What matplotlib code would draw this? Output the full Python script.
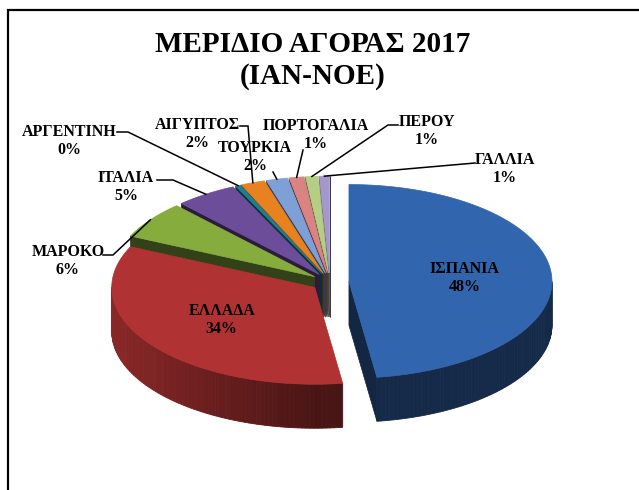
import matplotlib.pyplot as plt
from matplotlib.patches import Polygon
import matplotlib.colors as mcolors
import numpy as np

# Market share per country (clockwise from 12 o'clock)
countries = ['ΙΣΠΑΝΙΑ', 'ΕΛΛΑΔΑ', 'ΜΑΡΟΚΟ', 'ΙΤΑΛΙΑ', 'ΑΡΓΕΝΤΙΝΗ',
             'ΑΙΓΥΠΤΟΣ', 'ΤΟΥΡΚΙΑ', 'ΠΟΡΤΟΓΑΛΙΑ', 'ΠΕΡΟΥ', 'ΓΑΛΛΙΑ']
shares = [47.8, 34.1, 6.2, 4.9, 0.4, 1.9, 1.7, 1.2, 1.0, 0.8]
colors = ['#3165AD', '#B13232', '#87AC3E', '#6B4D99', '#1F7F91',
          '#E8811F', '#7FA0D6', '#D98483', '#B4CE83', '#A597CC']

# label layout for the small slices (pixel coords): text centre, leader start, elbow
label_xy = [None, None, (68, 261), (126, 187), (69, 141), (197, 134),
            (255, 157), (316, 135), (427, 131), (505, 169)]
leader_start = [None, None, (103, 255), (157, 180), (117, 132), (240, 126),
                (273, 172), (303, 150), (398, 125), (475, 163)]
leader_elbow = [0, 0, 10, 16, 11, 8, 0, 0, -10, 0]

# fake-3D pie geometry, in pixels
CX, CY = 330, 282
R, TILT, DEPTH, EXPLODE = 203, 0.477, 44, 19

fig = plt.figure(figsize=(6.39, 4.90), dpi=100)
ax = fig.add_axes([0, 0, 1, 1])
ax.set_xlim(0, 639)
ax.set_ylim(490, 0)
ax.axis('off')


def rim(cx, cy, phi, z=0.0):
    return np.column_stack([cx + R * np.cos(phi), cy - R * TILT * np.sin(phi) + z])


def shade(c, f):
    r, g, b = mcolors.to_rgb(c)
    return (r * f, g * f, b * f)


values = np.array(shares)
cum = np.concatenate([[0], np.cumsum(values)]) / values.sum() * 2 * np.pi
slices = []
for i in range(len(values)):
    phi_a = np.pi / 2 - cum[i + 1]
    phi_b = np.pi / 2 - cum[i]
    phi_m = (phi_a + phi_b) / 2
    ox = EXPLODE * np.cos(phi_m)
    oy = -EXPLODE * TILT * np.sin(phi_m)
    slices.append((i, phi_a, phi_b, phi_m, CX + ox, CY + oy))

# back slices first
for i, pa, pb, pm, cx, cy in sorted(slices, key=lambda s: s[5]):
    col = colors[i]
    # radial cut faces
    for phi, vis in ((pa, np.cos(pa) > 0), (pb, np.cos(pb) < 0)):
        if vis:
            p = rim(cx, cy, np.array([phi]))[0]
            face = [(cx, cy), tuple(p), (p[0], p[1] + DEPTH), (cx, cy + DEPTH)]
            ax.add_patch(Polygon(face, closed=True, fc=shade(col, 0.38),
                                 ec=shade(col, 0.38), lw=0.5))
    # outer wall on the front half, shaded in strips
    for k in (-1, 0, 1):
        lo = max(pa, np.pi + 2 * np.pi * k)
        hi = min(pb, 2 * np.pi + 2 * np.pi * k)
        if hi <= lo:
            continue
        n = max(2, int((hi - lo) / 0.02))
        ph = np.linspace(lo, hi, n)
        top = rim(cx, cy, ph)
        for j in range(n - 1):
            f = 0.42 + 0.36 * max(0.0, -np.cos((ph[j] + ph[j + 1]) / 2))
            quad = [top[j], top[j + 1], top[j + 1] + [0, DEPTH], top[j] + [0, DEPTH]]
            ax.add_patch(Polygon(quad, closed=True, fc=shade(col, f),
                                 ec=shade(col, f), lw=0.6))
    # top face
    ph = np.linspace(pa, pb, max(3, int((pb - pa) / 0.01)))
    pts = np.vstack([[cx, cy], rim(cx, cy, ph)])
    ax.add_patch(Polygon(pts, closed=True, fc=col, ec=col, lw=0.5))

lab_font = dict(family=['Liberation Serif', 'DejaVu Serif'], fontweight='bold',
                fontsize=11.5, color='black', ha='center', va='center')
total = values.sum()


def put_label(x, y, i):
    ax.text(x, y - 9, countries[i], **lab_font)
    ax.text(x, y + 9, f'{values[i] / total * 100:.0f}%', **lab_font)


for i, pa, pb, pm, cx, cy in slices:
    if label_xy[i] is None:
        put_label(cx + 0.57 * R * np.cos(pm), cy - 0.57 * R * TILT * np.sin(pm), i)
        continue
    put_label(*label_xy[i], i)
    end = rim(cx, cy, np.array([pm]))[0]
    sx, sy = leader_start[i]
    xs = [sx, sx + leader_elbow[i], end[0]]
    ys = [sy, sy, end[1]]
    ax.plot(xs, ys, color='black', lw=1.1, solid_joinstyle='miter')

title_font = dict(family=['Liberation Serif', 'DejaVu Serif'], fontweight='bold',
                  fontsize=21, ha='center', va='center')
ax.text(313, 45, 'ΜΕΡΙΔΙΟ ΑΓΟΡΑΣ 2017', **title_font)
ax.text(313, 77, '(ΙΑΝ-ΝΟΕ)', **title_font)

# chart frame (only left and top edges are inside the crop)
ax.plot([8, 8, 639], [490, 10, 10], color='black', lw=1.6, solid_joinstyle='miter')

fig.savefig('out.png', dpi=100)
